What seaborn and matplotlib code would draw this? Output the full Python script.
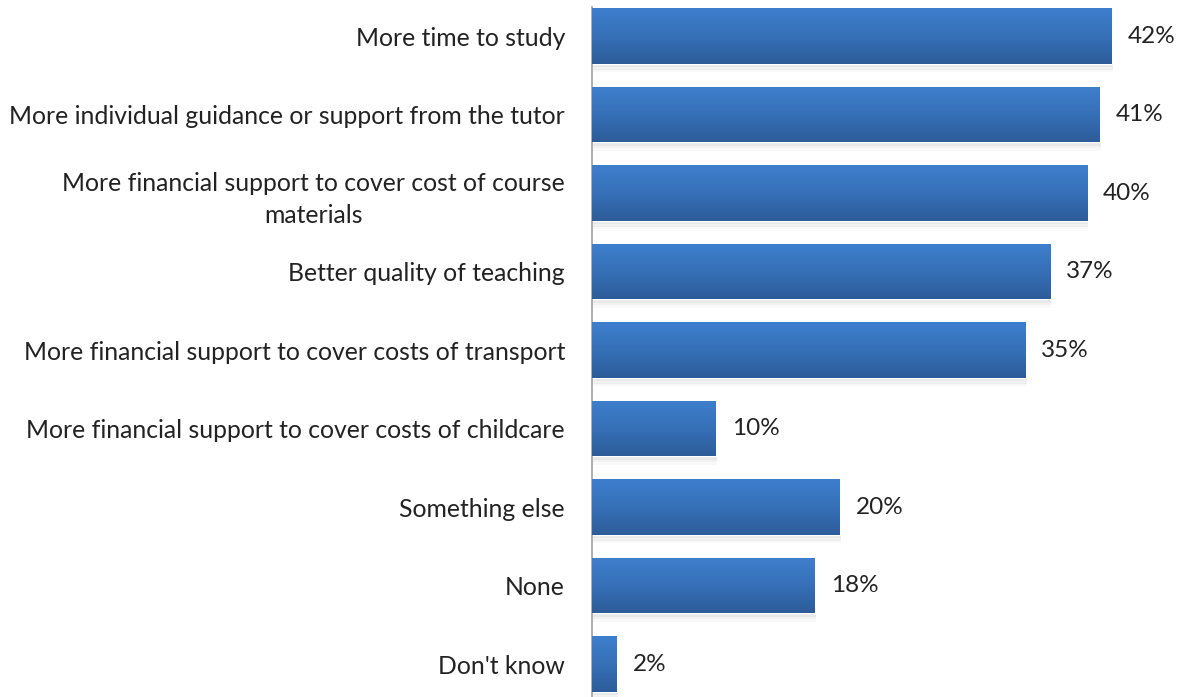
import numpy as np
import matplotlib
matplotlib.use("Agg")
import matplotlib.pyplot as plt
import seaborn as sns
import pandas as pd

categories = [
    "More time to study",
    "More individual guidance or support from the tutor",
    "More financial support to cover cost of course\nmaterials",
    "Better quality of teaching",
    "More financial support to cover costs of transport",
    "More financial support to cover costs of childcare",
    "Something else",
    "None",
    "Don't know",
]
values = [42, 41, 40, 37, 35, 10, 20, 18, 2]

sns.set_theme(style="white")
plt.rcParams["font.family"] = ["Lato", "DejaVu Sans"]

df = pd.DataFrame({"category": categories, "value": values})

PX = 12.38  # pixels per percentage point
fig = plt.figure(figsize=(11.86, 6.97), dpi=100)
ax = fig.add_axes([592 / 1186, 0.0, 1 - 592 / 1186, 690 / 697])

sns.barplot(data=df, y="category", x="value", orient="h", color="#3a74c0",
            width=0.71, ax=ax, saturation=1)

xmax = 594 / PX
ax.set_xlim(0, xmax)
ax.set_ylim(8.42, -0.37)

# vertical gradient fill and soft shadow for each bar
grad = np.linspace(0, 1, 256).reshape(-1, 1)
cmap = matplotlib.colors.LinearSegmentedColormap.from_list(
    "bar", ["#3e7fcd", "#3670b7", "#2d5c99"])
for p in list(ax.patches):
    x0, y0 = p.get_x(), p.get_y()
    w, h = p.get_width(), p.get_height()
    for k, a in enumerate([0.09, 0.05, 0.025]):
        sh = matplotlib.patches.Rectangle((x0 + 0.1, y0 + h + 0.01 + 0.03 * k),
                                          w, 0.035, color="black", alpha=a,
                                          lw=0, zorder=1)
        ax.add_patch(sh)
    p.set_zorder(2)
    im = ax.imshow(grad, cmap=cmap, aspect="auto",
                   extent=(x0, x0 + w, y0 + h, y0), zorder=3,
                   interpolation="bicubic")
    im.set_clip_path(p)

ax.set_xlim(0, xmax)
ax.set_ylim(8.42, -0.37)

for i, v in enumerate(values):
    ax.text(v + 16 / PX, i, f"{v}%", va="center", ha="left",
            fontsize=17.5, color="#222222")

ax.set_xlabel("")
ax.set_ylabel("")
ax.set_xticks([])
ax.tick_params(axis="y", length=0, pad=19.5)
for lbl in ax.get_yticklabels():
    lbl.set_fontsize(17.8)
    lbl.set_color("#222222")
    lbl.set_multialignment("center")
    lbl.set_linespacing(1.45)

for s in ["top", "right", "bottom"]:
    ax.spines[s].set_visible(False)
ax.spines["left"].set_color("#a0a0a0")
ax.spines["left"].set_linewidth(1.2)

fig.savefig("out.png", dpi=100)
